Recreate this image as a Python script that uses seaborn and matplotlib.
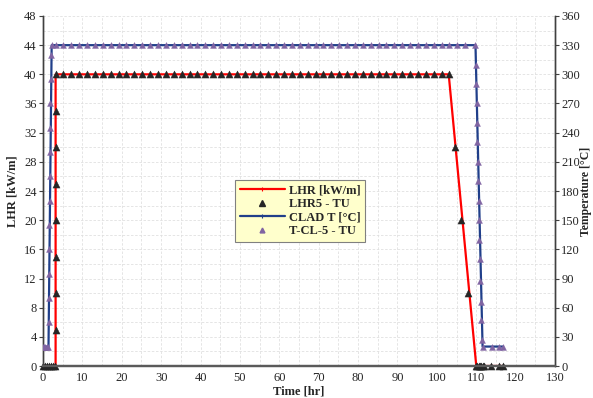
import matplotlib
matplotlib.use("Agg")
import matplotlib.pyplot as plt
import seaborn as sns
import pandas as pd
from matplotlib.lines import Line2D

# Linear heat rate (code) vs time
lhr_time = [0, 3.2, 3.2, 103.0, 110.0, 116.7]
lhr_value = [0, 0, 40, 40, 0, 0]

# Linear heat rate measured points (LHR5 - TU)
lhr5_time = [0, 0.5, 1.0, 1.5, 2.0, 2.5, 3.0,
             3.2, 3.2, 3.2, 3.2, 3.2, 3.2, 3.2,
             3.2, 5.2, 7.2, 9.2, 11.2, 13.2, 15.2, 17.2, 19.2, 21.2,
             23.2, 25.2, 27.2, 29.2, 31.2, 33.2, 35.2, 37.2, 39.2, 41.2,
             43.2, 45.2, 47.2, 49.2, 51.2, 53.2, 55.2, 57.2, 59.2, 61.2,
             63.2, 65.2, 67.2, 69.2, 71.2, 73.2, 75.2, 77.2, 79.2, 81.2,
             83.2, 85.2, 87.2, 89.2, 91.2, 93.2, 95.2, 97.2, 99.2, 101.2,
             103.0,
             104.6, 106.1, 107.9,
             110.0, 110.3, 110.6, 111.0, 111.3, 111.6, 112.0, 113.8, 115.7, 116.7]
lhr5_value = [0, 0, 0, 0, 0, 0, 0,
              5, 10, 15, 20, 25, 30, 35,
              40, 40, 40, 40, 40, 40, 40, 40, 40, 40,
              40, 40, 40, 40, 40, 40, 40, 40, 40, 40,
              40, 40, 40, 40, 40, 40, 40, 40, 40, 40,
              40, 40, 40, 40, 40, 40, 40, 40, 40, 40,
              40, 40, 40, 40, 40, 40, 40, 40, 40, 40,
              40,
              30, 20, 10,
              0, 0, 0, 0, 0, 0, 0, 0, 0, 0]

# Cladding temperature (code) vs time
clad_time = [0, 1.4, 2.2, 109.8, 111.6, 116.8]
clad_value = [20, 20, 330, 330, 20, 20]

# Cladding temperature measured points (T-CL-5 - TU)
tcl_time = [0, 0.3, 0.6, 1.0, 1.3,
            1.45, 1.5, 1.55, 1.6, 1.65, 1.7, 1.75, 1.8, 1.85, 1.9, 1.95, 2.0,
            2.2, 3.4, 5.2, 7.2, 9.2, 11.2, 13.2, 15.2, 17.2, 19.2, 21.2,
            23.2, 25.2, 27.2, 29.2, 31.2, 33.2, 35.2, 37.2, 39.2, 41.2,
            43.2, 45.2, 47.2, 49.2, 51.2, 53.2, 55.2, 57.2, 59.2, 61.2,
            63.2, 65.2, 67.2, 69.2, 71.2, 73.2, 75.2, 77.2, 79.2, 81.2,
            83.2, 85.2, 87.2, 89.2, 91.2, 93.2, 95.2, 97.2, 99.2, 101.2,
            103.2, 105.2, 107.2, 109.6,
            109.9, 110.0, 110.1, 110.2, 110.3, 110.4, 110.5, 110.6, 110.7,
            110.8, 110.9, 111.0, 111.1, 111.2, 111.4,
            111.6, 113.9, 115.7, 116.8]
tcl_value = [20, 20, 20, 20, 20,
             45, 70, 95, 120, 145, 170, 195, 220, 245, 270, 295, 320,
             330, 330, 330, 330, 330, 330, 330, 330, 330, 330, 330,
             330, 330, 330, 330, 330, 330, 330, 330, 330, 330,
             330, 330, 330, 330, 330, 330, 330, 330, 330, 330,
             330, 330, 330, 330, 330, 330, 330, 330, 330, 330,
             330, 330, 330, 330, 330, 330, 330, 330, 330, 330,
             330, 330, 330, 330,
             310, 290, 270, 250, 230, 210, 190, 170, 150,
             130, 110, 87, 66, 47, 27,
             20, 20, 20, 20]

x_ticks = list(range(0, 131, 10))
lhr_ticks = list(range(0, 49, 4))
temp_ticks = list(range(0, 361, 30))

RED = "#FF0000"
BLUE = "#203F8A"
PURPLE = "#8064A2"
DARK = "#262626"

sns.set_style("white")
plt.rcParams["font.family"] = ["Liberation Serif", "DejaVu Serif"]

fig = plt.figure(figsize=(5.93, 3.98), dpi=100)
ax = fig.add_axes([0.0725, 0.0804, 0.8635, 0.8794])
ax2 = ax.twinx()

lhr_df = pd.DataFrame({"t": lhr_time, "v": lhr_value})
lhr5_df = pd.DataFrame({"t": lhr5_time, "v": lhr5_value})
clad_df = pd.DataFrame({"t": clad_time, "v": clad_value})
tcl_df = pd.DataFrame({"t": tcl_time, "v": tcl_value})

# light dashed grid on the primary axis
for xv in range(5, 130, 5):
    ax.axvline(xv, color="#E0E0E0", lw=0.6, ls=(0, (3, 2)), zorder=0)
for yv in range(2, 49, 2):
    ax.axhline(yv, color="#E0E0E0", lw=0.6, ls=(0, (3, 2)), zorder=0)

sns.lineplot(data=lhr_df, x="t", y="v", ax=ax, sort=False, estimator=None,
             color=RED, lw=1.6, zorder=3)
sns.scatterplot(data=lhr5_df, x="t", y="v", ax=ax, marker="^", s=26,
                color=DARK, edgecolor=DARK, linewidth=0.3, zorder=4,
                clip_on=False)

sns.lineplot(data=clad_df, x="t", y="v", ax=ax2, sort=False, estimator=None,
             color=BLUE, lw=1.6, zorder=3)
sns.scatterplot(data=tcl_df, x="t", y="v", ax=ax2, marker="^", s=18,
                color=PURPLE, edgecolor=PURPLE, linewidth=0.3, zorder=4)

ax.set_xlim(0, 130)
ax.set_ylim(0, 48)
ax2.set_ylim(0, 360)
ax.set_xticks(x_ticks)
ax.set_yticks(lhr_ticks)
ax2.set_yticks(temp_ticks)

ax.set_xlabel("Time [hr]", fontsize=9, fontweight="bold", labelpad=1)
ax.set_ylabel("LHR [kW/m]", fontsize=9, fontweight="bold", labelpad=4)
ax2.set_ylabel("Temperature [°C]", fontsize=8.5, fontweight="bold", labelpad=0)

for a in (ax, ax2):
    a.tick_params(labelsize=9, length=3, width=0.8, color="#404040",
                  direction="out", pad=1.5)
    a.spines["top"].set_visible(False)
    a.spines["left"].set_color("#404040")
    a.spines["right"].set_color("#404040")
    a.spines["bottom"].set_color("#5A5A5A")
    a.spines["left"].set_linewidth(1.0)
    a.spines["right"].set_linewidth(1.0)
    a.spines["bottom"].set_linewidth(1.6)

handles = [
    Line2D([], [], color=RED, lw=1.6, marker="|", ms=3, mew=0.8),
    Line2D([], [], ls="none", marker="^", ms=4, color=DARK),
    Line2D([], [], color=BLUE, lw=1.6, marker="|", ms=3, mew=0.8),
    Line2D([], [], ls="none", marker="^", ms=3.5, color=PURPLE),
]
labels = ["LHR [kW/m]", "LHR5 - TU", "CLAD T [°C]", "T-CL-5 - TU"]
leg = ax2.legend(handles, labels, loc="center", bbox_to_anchor=(0.502, 0.443),
                 prop={"size": 9, "weight": "bold"}, frameon=True, fancybox=False,
                 handlelength=3.6, handletextpad=0.3, borderpad=0.4,
                 labelspacing=0.12, borderaxespad=0)
leg.get_frame().set_facecolor("#FFFFCC")
leg.get_frame().set_edgecolor("#808080")
leg.get_frame().set_linewidth(0.8)
leg.get_frame().set_alpha(1)
leg.set_zorder(10)

fig.savefig("out.png", dpi=100)
